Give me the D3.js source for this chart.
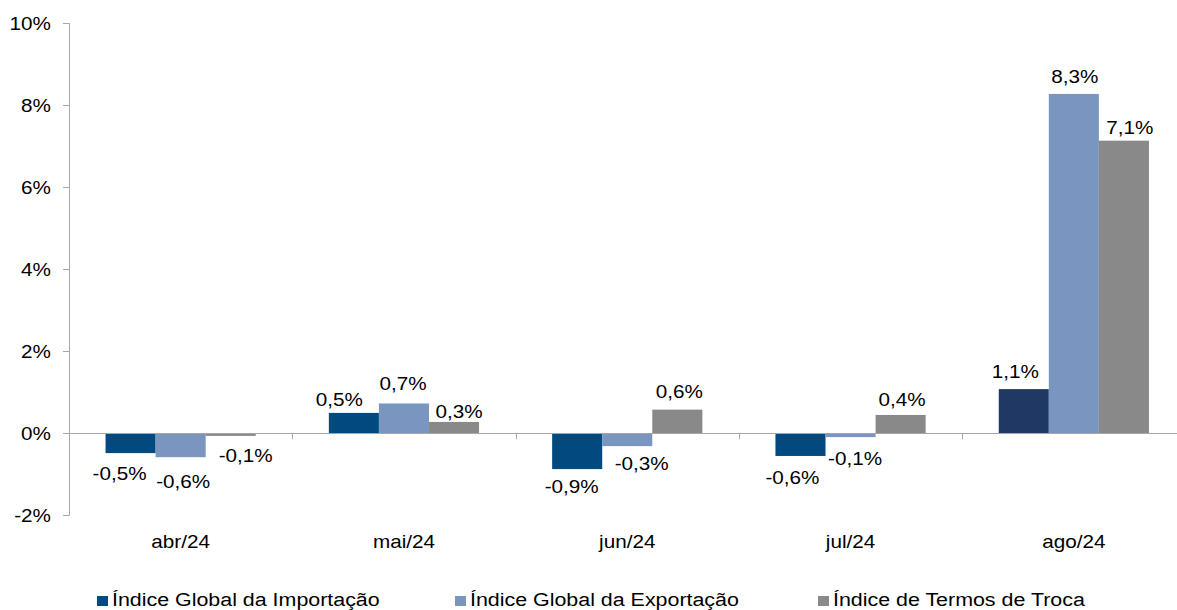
<!DOCTYPE html>
<html><head><meta charset="utf-8">
<script src="https://cdn.jsdelivr.net/npm/d3@7"></script>
<style>body{margin:0;background:#fff}svg{display:block}text{font-family:"Liberation Sans",Arial,sans-serif;fill:#000}</style>
</head><body><svg id="c" width="1177" height="610"></svg>
<script>
const categories = ["abr/24","mai/24","jun/24","jul/24","ago/24"];
const seriesNames = ["Índice Global da Importação","Índice Global da Exportação","Índice de Termos de Troca"];
const importacao = [-0.49, 0.49, -0.88, -0.56, 1.07];
const exportacao = [-0.59, 0.72, -0.32, -0.10, 8.27];
const termos = [-0.07, 0.27, 0.57, 0.44, 7.13];
const yTicks = [-2, 0, 2, 4, 6, 8, 10];
const seriesColors = ["#004a80", "#7a96c0", "#898989"];
const lastImportColor = "#203864";

// label nudges (layout only) per series, per category: [dx, dy]
const labelNudge = [
  [[-11,0],[-14.5,3],[-5.5,-3],[-8,1],[-8.5,-1]],
  [[2.5,4],[-1,-3],[14.5,-3],[4.5,1],[1,-1]],
  [[15,-1],[5,6],[2,-2],[1.5,1],[6,3]]
];

const series = [importacao, exportacao, termos];
const svg = d3.select("#c");
const SX = 1.15;
const fmt = v => d3.format(".1f")(v).replace(".", ",").replace("−","-") + "%";

const x0 = d3.scaleBand().domain(categories).range([69, 1185.5]).paddingInner(0).paddingOuter(0);
const x1 = d3.scaleBand().domain([0,1,2]).range([0, x0.bandwidth()]).paddingInner(0).paddingOuter(0.73);
const y = d3.scaleLinear().domain([-2, 10]).range([515, 23]);

function stext(g, x, y0, str, anchor, size, sx) {
  return g.append("text").attr("transform", `translate(${x},${y0}) scale(${sx||SX},1)`)
    .attr("text-anchor", anchor).style("font-size", (size||18) + "px").text(str);
}

// bars
categories.forEach((c, ci) => {
  series.forEach((s, si) => {
    const v = s[ci];
    const color = (si === 0 && ci === categories.length - 1) ? lastImportColor : seriesColors[si];
    svg.append("rect")
      .attr("x", x0(c) + x1(si))
      .attr("width", x1.bandwidth())
      .attr("y", y(Math.max(0, v)))
      .attr("height", Math.abs(y(v) - y(0)))
      .attr("fill", color);
  });
});

// axes
const axisColor = "#a6a6a6";
svg.append("line").attr("x1", 69.5).attr("x2", 69.5).attr("y1", y(10)).attr("y2", y(-2)).attr("stroke", axisColor);
yTicks.forEach(t => {
  svg.append("line").attr("x1", 63).attr("x2", 69.5).attr("y1", Math.round(y(t)) + 0.5).attr("y2", Math.round(y(t)) + 0.5).attr("stroke", axisColor);
  stext(svg, 51, y(t) + 6.5, t + "%", "end", 18);
});
svg.append("line").attr("x1", 69).attr("x2", 1177).attr("y1", Math.round(y(0)) + 0.5).attr("y2", Math.round(y(0)) + 0.5).attr("stroke", axisColor);
categories.forEach((c, ci) => {
  if (ci > 0) {
    const bx = Math.round(x0(c)) + 0.5;
    svg.append("line").attr("x1", bx).attr("x2", bx).attr("y1", y(0)).attr("y2", y(0) + 6).attr("stroke", axisColor);
  }
  stext(svg, x0(c) + x0.bandwidth() / 2, 547.5, c, "middle", 18);
});

// data labels
categories.forEach((c, ci) => {
  series.forEach((s, si) => {
    const v = s[ci];
    const [dx, dy] = labelNudge[si][ci];
    const cx = x0(c) + x1(si) + x1.bandwidth() / 2 + dx;
    const yy = (v >= 0 ? y(v) - 10 : y(v) + 27) + dy;
    stext(svg, cx, yy, fmt(v), "middle", 18);
  });
});

// legend
const legendX = [97, 455, 818];
seriesNames.forEach((n, i) => {
  svg.append("rect").attr("x", legendX[i]).attr("y", 596).attr("width", 11).attr("height", 10).attr("fill", seriesColors[i]);
  stext(svg, legendX[i] + 15, 606, n, "start", 18, 1.19);
});
</script></body></html>
